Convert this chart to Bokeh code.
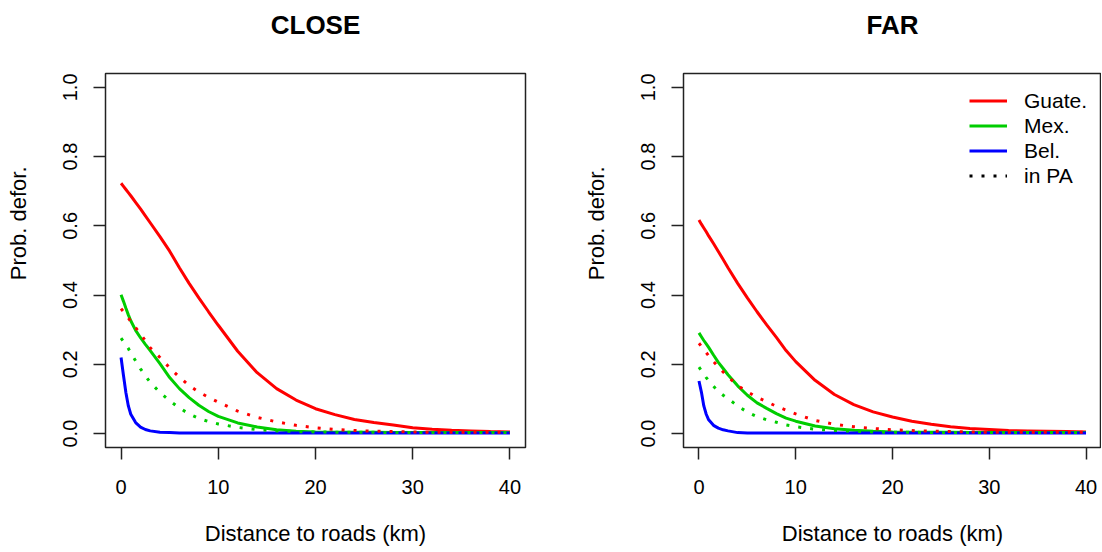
from bokeh.plotting import figure
from bokeh.models import (Range1d, FixedTicker, PrintfTickFormatter, Title,
                          Legend, LegendItem, LinearAxis)
from bokeh.layouts import row
from bokeh.embed import file_html
from bokeh.resources import INLINE

# ---------------- data ----------------
dist_km = [0, 0.25, 0.5, 0.75, 1, 1.5, 2, 2.5, 3, 4, 5, 6, 7, 8, 9, 10,
           12, 14, 16, 18, 20, 22, 24, 26, 28, 30, 32, 34, 36, 38, 40]

# CLOSE panel
guate_close = [0.723, 0.714, 0.705, 0.696, 0.687, 0.668, 0.649, 0.629, 0.609, 0.569,
               0.527, 0.479, 0.434, 0.392, 0.352, 0.313, 0.238, 0.176, 0.130, 0.097,
               0.072, 0.055, 0.041, 0.032, 0.025, 0.017, 0.013, 0.010, 0.008, 0.006, 0.005]
mex_close = [0.401, 0.382, 0.362, 0.343, 0.326, 0.298, 0.277, 0.258, 0.240, 0.202,
             0.162, 0.130, 0.104, 0.082, 0.064, 0.050, 0.031, 0.019, 0.011, 0.007,
             0.005, 0.004, 0.004, 0.004, 0.003, 0.003, 0.003, 0.003, 0.003, 0.003, 0.003]
bel_close = [0.220, 0.168, 0.118, 0.080, 0.056, 0.032, 0.019, 0.012, 0.008, 0.004,
             0.003, 0.002, 0.002, 0.002, 0.002, 0.002, 0.002, 0.002, 0.002, 0.002,
             0.002, 0.002, 0.002, 0.002, 0.002, 0.002, 0.002, 0.002, 0.002, 0.002, 0.002]
guate_pa_close = [0.361, 0.352, 0.343, 0.334, 0.324, 0.306, 0.288, 0.268, 0.248, 0.220,
                  0.190, 0.163, 0.139, 0.120, 0.105, 0.091, 0.065, 0.047, 0.034, 0.024,
                  0.017, 0.012, 0.009, 0.007, 0.006, 0.005, 0.004, 0.004, 0.004, 0.004, 0.004]
mex_pa_close = [0.276, 0.266, 0.256, 0.246, 0.233, 0.210, 0.187, 0.167, 0.148, 0.119,
                0.095, 0.074, 0.057, 0.044, 0.035, 0.028, 0.018, 0.012, 0.008, 0.006,
                0.005, 0.004, 0.004, 0.004, 0.003, 0.003, 0.003, 0.003, 0.003, 0.003, 0.003]

# FAR panel
guate_far = [0.617, 0.605, 0.594, 0.583, 0.571, 0.549, 0.526, 0.503, 0.479, 0.434,
             0.392, 0.352, 0.314, 0.278, 0.240, 0.208, 0.154, 0.113, 0.084, 0.063,
             0.048, 0.036, 0.027, 0.020, 0.015, 0.012, 0.009, 0.008, 0.007, 0.006, 0.005]
mex_far = [0.291, 0.280, 0.269, 0.259, 0.249, 0.227, 0.206, 0.188, 0.170, 0.138,
           0.111, 0.089, 0.073, 0.058, 0.045, 0.036, 0.022, 0.014, 0.010, 0.007,
           0.005, 0.004, 0.004, 0.004, 0.003, 0.003, 0.003, 0.003, 0.003, 0.003, 0.003]
bel_far = [0.152, 0.120, 0.080, 0.056, 0.040, 0.024, 0.016, 0.011, 0.008, 0.003,
           0.002, 0.002, 0.002, 0.002, 0.002, 0.002, 0.002, 0.002, 0.002, 0.002,
           0.002, 0.002, 0.002, 0.002, 0.002, 0.002, 0.002, 0.002, 0.002, 0.002, 0.002]
guate_pa_far = [0.261, 0.252, 0.243, 0.234, 0.225, 0.208, 0.193, 0.178, 0.164, 0.139,
                0.121, 0.105, 0.092, 0.079, 0.068, 0.057, 0.038, 0.027, 0.020, 0.015,
                0.011, 0.009, 0.007, 0.006, 0.005, 0.004, 0.004, 0.004, 0.004, 0.004, 0.004]
mex_pa_far = [0.192, 0.182, 0.172, 0.162, 0.153, 0.137, 0.122, 0.111, 0.101, 0.080,
              0.062, 0.049, 0.040, 0.033, 0.025, 0.020, 0.013, 0.009, 0.007, 0.005,
              0.004, 0.004, 0.003, 0.003, 0.003, 0.003, 0.003, 0.003, 0.003, 0.003, 0.003]

x_ticks = [0, 10, 20, 30, 40]
y_ticks = [0.0, 0.2, 0.4, 0.6, 0.8, 1.0]
legend_labels = ["Guate.", "Mex.", "Bel.", "in PA"]
panel_titles = ["CLOSE", "FAR"]
x_label = "Distance to roads (km)"
y_label = "Prob. defor."

# ---------------- styling ----------------
FONT = "Liberation Sans"
RED, GREEN, BLUE = "#FF0000", "#00CD00", "#0000FF"
LW = 3
DOT = "3 9"


def spacer_axis(size, tick_at):
    """Invisible axis (no drawn line, ticks or labels) that only reserves space."""
    return LinearAxis(ticker=FixedTicker(ticks=[tick_at]), major_tick_out=size,
                      major_tick_in=0, axis_line_color=None,
                      major_tick_line_color=None, minor_tick_line_color=None,
                      major_label_text_color=None, major_label_text_font_size="1px",
                      major_label_standoff=0)


def make_panel(title, series_solid, series_dot, border_left, frame_w, border_right):
    p = figure(frame_width=frame_w, frame_height=374,
               min_border_left=border_left, min_border_right=border_right,
               min_border_top=73, min_border_bottom=97,
               x_range=Range1d(-1.6, 41.6), y_range=Range1d(-0.04, 1.04),
               output_backend="svg", toolbar_location=None)
    p.background_fill_color = "white"
    p.border_fill_color = "white"
    p.outline_line_color = "#222222"
    p.outline_line_width = 1.5
    p.xgrid.visible = False
    p.ygrid.visible = False

    xax = p.below[0]
    yax = p.left[0]
    for ax in (xax, yax):
        ax.axis_line_color = None
        ax.major_tick_line_color = "#222222"
        ax.major_tick_line_width = 1.5
        ax.major_tick_in = 0
        ax.major_tick_out = 12
        ax.minor_tick_line_color = None
        ax.major_label_text_font = FONT
        ax.major_label_text_font_size = "20px"
        ax.major_label_text_color = "black"

    xax.ticker = FixedTicker(ticks=x_ticks)
    xax.formatter = PrintfTickFormatter(format="%d")
    xax.major_label_standoff = 20
    xax.axis_label = x_label
    xax.axis_label_text_font = FONT
    xax.axis_label_text_font_size = "22px"
    xax.axis_label_text_font_style = "normal"
    xax.axis_label_text_color = "black"
    xax.axis_label_standoff = 24

    yax.ticker = FixedTicker(ticks=y_ticks)
    yax.formatter = PrintfTickFormatter(format="%.1f")
    yax.major_label_orientation = "vertical"
    yax.major_label_standoff = 16

    # gap between frame and the panel title
    p.add_layout(spacer_axis(34, 20), "above")
    p.title.text = title
    p.title.align = "center"
    p.title.text_font = FONT
    p.title.text_font_style = "bold"
    p.title.text_font_size = "26px"
    p.title.text_color = "black"
    p.title.standoff = 0

    # gap between y tick labels and the y title, then the y title itself
    p.add_layout(spacer_axis(30, 0.5), "left")
    ylab = Title(text=y_label, align="right", offset=93, standoff=0,
                 text_font=FONT, text_font_size="22px", text_font_style="normal",
                 text_color="black")
    p.add_layout(ylab, "left")

    renderers = []
    for ys, col in zip(series_solid, (RED, GREEN, BLUE)):
        renderers.append(p.line(dist_km, ys, line_color=col, line_width=LW))
    for ys, col in zip(series_dot, (RED, GREEN)):
        p.line(dist_km, ys, line_color=col, line_width=LW, line_dash=DOT)
    return p, renderers


p1, _ = make_panel(panel_titles[0],
                   [guate_close, mex_close, bel_close],
                   [guate_pa_close, mex_pa_close],
                   105, 420, 26)
p2, rs = make_panel(panel_titles[1],
                    [guate_far, mex_far, bel_far],
                    [guate_pa_far, mex_pa_far],
                    132, 418, 0)

# legend key for the dotted "in PA" lines (a single point draws no line)
pa_key = p2.line(x=dist_km[:1], y=mex_pa_far[:1], line_color="black",
                 line_width=LW, line_dash=DOT)
legend = Legend(items=[LegendItem(label=legend_labels[0], renderers=[rs[0]]),
                       LegendItem(label=legend_labels[1], renderers=[rs[1]]),
                       LegendItem(label=legend_labels[2], renderers=[rs[2]]),
                       LegendItem(label=legend_labels[3], renderers=[pa_key])],
                location=(286, 259), border_line_color=None,
                background_fill_alpha=0, glyph_width=38, glyph_height=25,
                label_height=25, spacing=0, padding=5, margin=0,
                label_standoff=17, label_text_font=FONT,
                label_text_font_size="21px", label_text_color="black")
p2.add_layout(legend)

layout = row(p1, p2)
open("out.html", "w").write(file_html(layout, INLINE))
